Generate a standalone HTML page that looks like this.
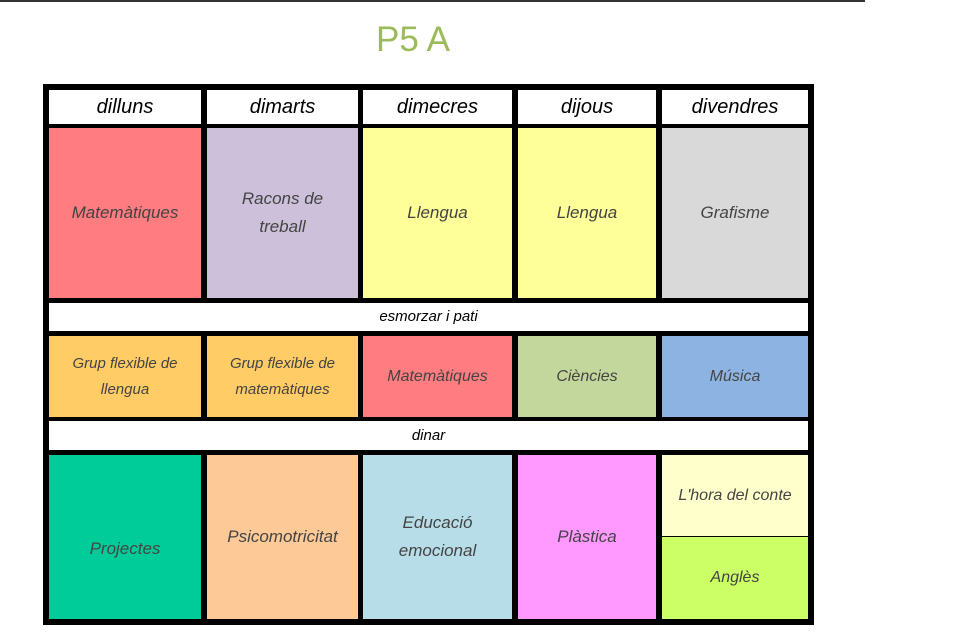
<!DOCTYPE html>
<html><head><meta charset="utf-8"><style>
body{margin:0;width:959px;height:637px;background:#fff;position:relative;overflow:hidden;font-family:"Liberation Sans",sans-serif}
.c{position:absolute;display:flex;align-items:center;justify-content:center;text-align:center;font-size:17px;color:#444;line-height:28px;font-style:italic;font-weight:300}
.h{color:#000;font-size:20px}
</style></head><body>
<div style="position:absolute;left:0;top:0;width:865px;height:2px;background:#333"></div>
<div style="position:absolute;left:376px;top:20px;font-size:35px;color:#9bbb59;line-height:40px">P5 A</div>
<div style="position:absolute;left:43px;top:84px;width:771px;height:541px;background:#000"></div>

<div class="c h" style="left:49px;top:90px;width:152px;height:34px;background:#fff">dilluns</div>
<div class="c h" style="left:207px;top:90px;width:151px;height:34px;background:#fff">dimarts</div>
<div class="c h" style="left:363px;top:90px;width:149px;height:34px;background:#fff">dimecres</div>
<div class="c h" style="left:518px;top:90px;width:138px;height:34px;background:#fff">dijous</div>
<div class="c h" style="left:662px;top:90px;width:146px;height:34px;background:#fff">divendres</div>

<div class="c" style="left:49px;top:128px;width:152px;height:170px;background:#ff7c80">Matemàtiques</div>
<div class="c" style="left:207px;top:128px;width:151px;height:170px;background:#ccc0da">Racons de<br>treball</div>
<div class="c" style="left:363px;top:128px;width:149px;height:170px;background:#ffff99">Llengua</div>
<div class="c" style="left:518px;top:128px;width:138px;height:170px;background:#ffff99">Llengua</div>
<div class="c" style="left:662px;top:128px;width:146px;height:170px;background:#d9d9d9">Grafisme</div>

<div class="c h" style="left:49px;top:303px;width:759px;height:28px;background:#fff;font-size:15px">esmorzar i pati</div>

<div class="c" style="left:49px;top:336px;width:152px;height:81px;background:#ffcc66;font-size:15px;line-height:26px">Grup flexible de<br>llengua</div>
<div class="c" style="left:207px;top:336px;width:151px;height:81px;background:#ffcc66;font-size:15px;line-height:26px">Grup flexible de<br>matemàtiques</div>
<div class="c" style="left:363px;top:336px;width:149px;height:81px;background:#ff7c80;font-size:16px">Matemàtiques</div>
<div class="c" style="left:518px;top:336px;width:138px;height:81px;background:#c3d69b;font-size:16px">Ciències</div>
<div class="c" style="left:662px;top:336px;width:146px;height:81px;background:#8db3e2;font-size:16px">Música</div>

<div class="c h" style="left:49px;top:421px;width:759px;height:29px;background:#fff;font-size:15px">dinar</div>

<div class="c" style="left:49px;top:455px;width:152px;height:164px;background:#00cc99;padding-top:24px;box-sizing:border-box">Projectes</div>
<div class="c" style="left:207px;top:455px;width:151px;height:164px;background:#fcc997;padding-bottom:0">Psicomotricitat</div>
<div class="c" style="left:363px;top:455px;width:149px;height:164px;background:#b7dde8">Educació<br>emocional</div>
<div class="c" style="left:518px;top:455px;width:138px;height:164px;background:#ff99ff">Plàstica</div>
<div class="c" style="left:662px;top:455px;width:146px;height:81px;background:#ffffcc;font-size:16px">L'hora del conte</div>
<div class="c" style="left:662px;top:537px;width:146px;height:82px;background:#ccff66;font-size:16px">Anglès</div>
</body></html>
